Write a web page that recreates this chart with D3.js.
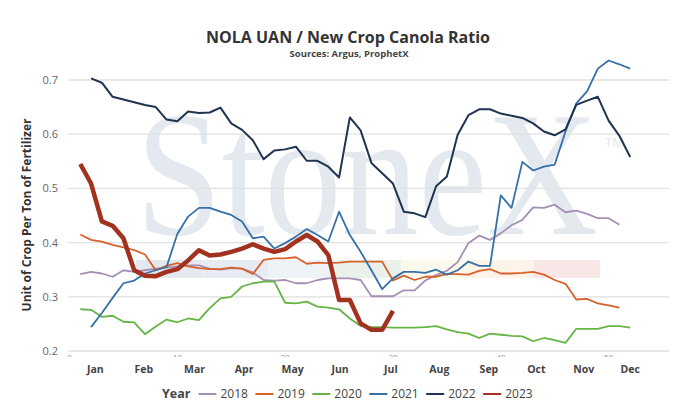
<!DOCTYPE html>
<html>
<head>
<meta charset="utf-8">
<style>
  body { margin: 0; background: #fff; }
  svg { display: block; font-family: "Open Sans", "DejaVu Sans", sans-serif; }
</style>
</head>
<body>
<div id="chart"></div>
<script src="https://d3js.org/d3.v7.min.js"></script>
<script>
// weekly ratios, week numbers start at startWeek
const years = ["2018", "2019", "2020", "2021", "2022", "2023"];
const startWeeks = [1, 1, 1, 2, 2, 1];

const y2018 = [0.342, 0.346, 0.343, 0.337, 0.349, 0.346, 0.349, 0.352, 0.354, 0.356, 0.358, 0.358, 0.352,
  0.350, 0.353, 0.352, 0.345, 0.331, 0.330, 0.331, 0.325, 0.325, 0.331, 0.334, 0.334, 0.334, 0.331,
  0.301, 0.301, 0.301, 0.312, 0.312, 0.330, 0.340, 0.348, 0.364, 0.399, 0.413, 0.405, 0.417, 0.432,
  0.442, 0.465, 0.464, 0.470, 0.456, 0.459, 0.453, 0.445, 0.445, 0.433];
const y2019 = [0.415, 0.405, 0.402, 0.396, 0.391, 0.386, 0.378, 0.349, 0.357, 0.362, 0.356, 0.353, 0.351,
  0.351, 0.354, 0.352, 0.342, 0.368, 0.371, 0.371, 0.373, 0.361, 0.363, 0.362, 0.363, 0.365, 0.365,
  0.365, 0.365, 0.330, 0.339, 0.331, 0.337, 0.337, 0.342, 0.342, 0.341, 0.348, 0.351, 0.343, 0.343,
  0.344, 0.346, 0.341, 0.331, 0.324, 0.295, 0.296, 0.288, 0.284, 0.280];
const y2020 = [0.277, 0.276, 0.263, 0.265, 0.254, 0.253, 0.231, 0.245, 0.258, 0.253, 0.260, 0.257, 0.279,
  0.297, 0.300, 0.319, 0.325, 0.328, 0.328, 0.289, 0.288, 0.291, 0.282, 0.280, 0.277, 0.260, 0.246,
  0.244, 0.244, 0.243, 0.243, 0.243, 0.244, 0.246, 0.240, 0.235, 0.232, 0.224, 0.232, 0.230, 0.228,
  0.227, 0.218, 0.224, 0.220, 0.215, 0.241, 0.241, 0.241, 0.246, 0.246, 0.243];
const y2021 = [0.244, 0.270, 0.298, 0.325, 0.330, 0.343, 0.349, 0.355, 0.416, 0.448, 0.464, 0.464,
  0.457, 0.451, 0.439, 0.408, 0.411, 0.389, 0.399, 0.411, 0.425, 0.414, 0.402, 0.457, 0.414, 0.383,
  0.349, 0.314, 0.334, 0.346, 0.346, 0.344, 0.350, 0.341, 0.349, 0.365, 0.357, 0.357, 0.487, 0.464,
  0.549, 0.533, 0.540, 0.544, 0.605, 0.657, 0.679, 0.721, 0.736, 0.729, 0.721];
const y2022 = [0.703, 0.695, 0.669, 0.664, 0.659, 0.654, 0.650, 0.627, 0.624, 0.642, 0.639, 0.640,
  0.649, 0.620, 0.608, 0.589, 0.554, 0.570, 0.572, 0.577, 0.551, 0.551, 0.540, 0.520, 0.631, 0.607,
  0.547, 0.528, 0.509, 0.457, 0.454, 0.447, 0.504, 0.522, 0.599, 0.635, 0.646, 0.646, 0.638, 0.634,
  0.630, 0.620, 0.605, 0.598, 0.609, 0.654, 0.662, 0.669, 0.625, 0.597, 0.558];
const y2023 = [0.545, 0.509, 0.439, 0.431, 0.408, 0.349, 0.339, 0.338, 0.346, 0.351, 0.367, 0.386, 0.376,
  0.378, 0.383, 0.389, 0.397, 0.389, 0.383, 0.388, 0.402, 0.414, 0.402, 0.377, 0.294, 0.294, 0.251,
  0.239, 0.239, 0.274];
const seriesValues = [y2018, y2019, y2020, y2021, y2022, y2023];

const months = ["Jan", "Feb", "Mar", "Apr", "May", "Jun", "Jul", "Aug", "Sep", "Oct", "Nov", "Dec"];
const monthWeeks = [2.4, 6.9, 11.6, 16.2, 20.7, 25.1, 29.8, 34.3, 38.9, 43.3, 47.7, 52.0];
const weekTicks = [0, 10, 20, 30, 40, 50];
const yTicks = [0.2, 0.3, 0.4, 0.5, 0.6, 0.7];

const colors = ["#a590b4", "#d8612c", "#64b446", "#3670a9", "#1e3450", "#a3311f"];
const widths = [1.8, 1.8, 1.8, 1.8, 2, 4.5];

const width = 677, height = 413;
const svg = d3.select("#chart").append("svg")
  .attr("width", width)
  .attr("height", height);

const x = d3.scaleLinear().domain([0, 55.6]).range([69.5, 669]);
const y = d3.scaleLinear().domain([0.2, 0.7]).range([351, 80]);

// watermark
const wm = svg.append("g");
const bandColors = ["#e4e8ef", "#e7ebf2", "#eef3f8", "#e9f1ea", "#fbf9eb", "#fdf4e9", "#f8e7e7"];
bandColors.forEach((c, i) => {
  wm.append("rect")
    .attr("x", 136 + i * 66.3)
    .attr("y", 260)
    .attr("width", 66.3)
    .attr("height", 18)
    .attr("fill", c);
});
const wmText = wm.append("text")
  .attr("x", 136)
  .attr("y", 234)
  .attr("font-family", "'Liberation Serif', 'DejaVu Serif', serif")
  .attr("fill", "#e4e8ef");
wmText.append("tspan")
  .attr("font-size", 178)
  .attr("textLength", 462)
  .attr("lengthAdjust", "spacingAndGlyphs")
  .text("StoneX");
wmText.append("tspan")
  .attr("font-family", "'Open Sans', sans-serif")
  .attr("font-size", 13)
  .attr("dx", 7)
  .attr("dy", -87)
  .text("TM");

// grid
svg.append("g")
  .selectAll("line")
  .data(yTicks)
  .join("line")
  .attr("x1", 68)
  .attr("x2", 669)
  .attr("y1", d => y(d))
  .attr("y2", d => y(d))
  .attr("stroke", "#e1e1e1")
  .attr("stroke-width", 1.3);

// y labels
svg.append("g")
  .selectAll("text")
  .data(yTicks)
  .join("text")
  .attr("x", 58)
  .attr("y", d => y(d) + 4)
  .attr("text-anchor", "end")
  .attr("font-size", 11)
  .attr("fill", "#666")
  .text(d => d3.format(".1f")(d));

// week tick labels, mostly hidden under the axis
const clip = svg.append("clipPath").attr("id", "weekclip");
clip.append("rect").attr("x", 0).attr("y", 354).attr("width", width).attr("height", 3);
svg.append("g")
  .attr("clip-path", "url(#weekclip)")
  .selectAll("text")
  .data(weekTicks)
  .join("text")
  .attr("x", d => x(d))
  .attr("y", 360)
  .attr("text-anchor", "middle")
  .attr("font-size", 8)
  .attr("fill", "#999")
  .text(d => d);

// month labels
svg.append("g")
  .selectAll("text")
  .data(months)
  .join("text")
  .attr("x", (d, i) => x(monthWeeks[i]))
  .attr("y", 373)
  .attr("text-anchor", "middle")
  .attr("font-size", 10.5)
  .attr("font-weight", "bold")
  .attr("fill", "#444")
  .text(d => d);

// lines
const line = d3.line()
  .x(d => x(d[0]))
  .y(d => y(d[1]));

years.forEach((yr, i) => {
  const pts = seriesValues[i].map((v, k) => [startWeeks[i] + k, v]);
  svg.append("path")
    .datum(pts)
    .attr("fill", "none")
    .attr("stroke", colors[i])
    .attr("stroke-width", widths[i])
    .attr("stroke-linejoin", "round")
    .attr("d", line);
});

// titles
svg.append("text")
  .attr("x", 348)
  .attr("y", 43)
  .attr("text-anchor", "middle")
  .attr("font-size", 16)
  .attr("font-weight", "bold")
  .attr("fill", "#333")
  .text("NOLA UAN / New Crop Canola Ratio");

svg.append("text")
  .attr("x", 349)
  .attr("y", 57)
  .attr("text-anchor", "middle")
  .attr("font-size", 9.5)
  .attr("font-weight", "bold")
  .attr("fill", "#444")
  .text("Sources: Argus, ProphetX");

svg.append("text")
  .attr("transform", "translate(31,215) rotate(-90)")
  .attr("text-anchor", "middle")
  .attr("font-size", 12)
  .attr("font-weight", "bold")
  .attr("fill", "#333")
  .text("Unit of Crop Per Ton of Fertilizer");

// legend
const legend = svg.append("g");
let lx = 162;
const ly = 398;
const title = legend.append("text")
  .attr("x", lx)
  .attr("y", ly)
  .attr("font-size", 12.5)
  .attr("font-weight", "bold")
  .attr("fill", "#444")
  .text("Year");
lx += title.node().getComputedTextLength() + 8;
years.forEach((yr, i) => {
  legend.append("line")
    .attr("x1", lx)
    .attr("x2", lx + 18)
    .attr("y1", ly - 4)
    .attr("y2", ly - 4)
    .attr("stroke", colors[i])
    .attr("stroke-width", 2);
  const t = legend.append("text")
    .attr("x", lx + 22)
    .attr("y", ly)
    .attr("font-size", 12)
    .attr("fill", "#444")
    .text(yr);
  lx += 22 + t.node().getComputedTextLength() + 7.5;
});
</script>
</body>
</html>
